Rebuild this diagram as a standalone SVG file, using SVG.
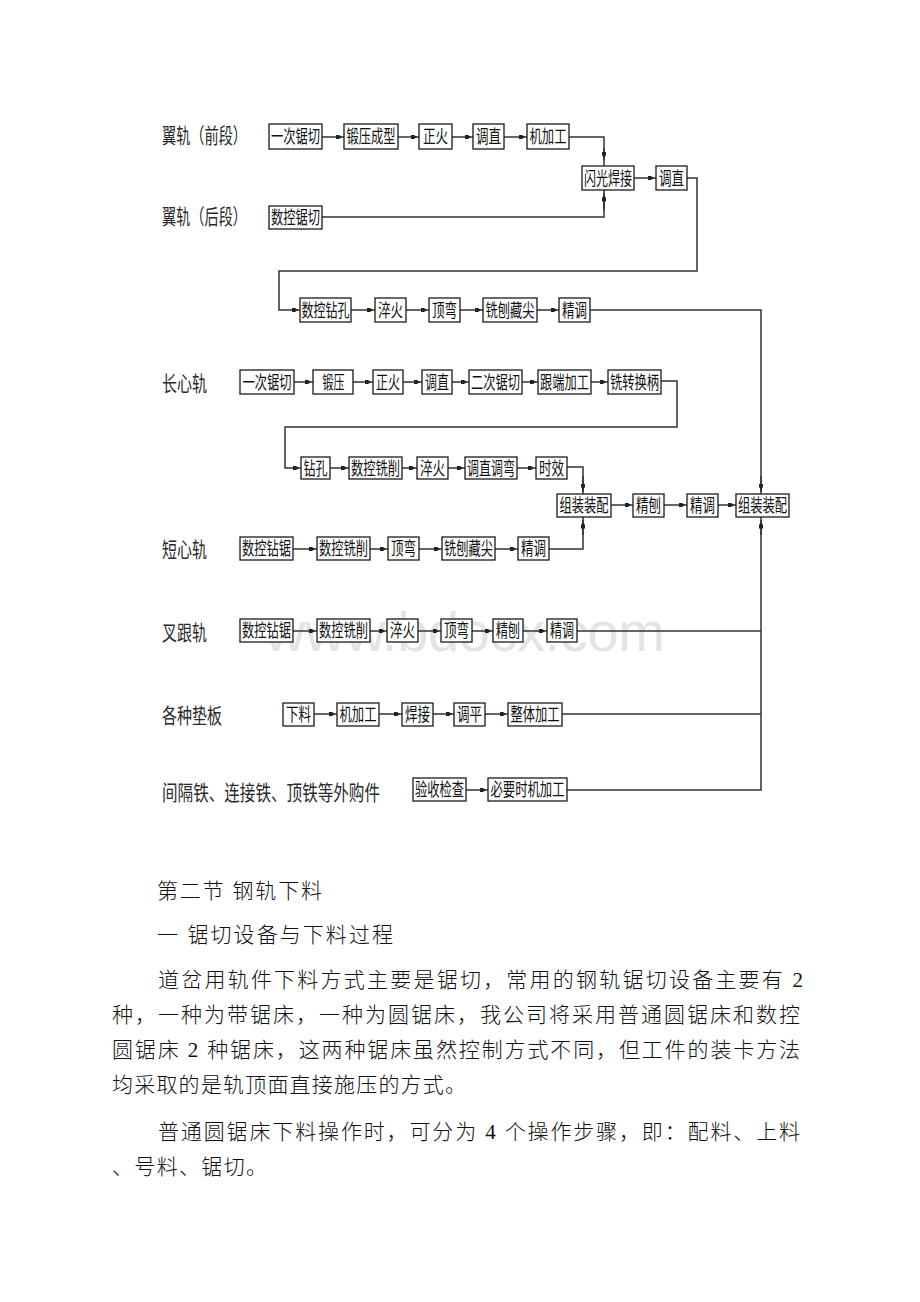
<svg xmlns="http://www.w3.org/2000/svg" width="920" height="1302" viewBox="0 0 920 1302">
<style>
.bg{fill:#ffffff}
.wm{font-family:"Liberation Sans",Arial,sans-serif;font-size:56px;fill:#e4e4e4}
.lbl{font-family:"Noto Sans CJK SC",sans-serif;font-size:21px;fill:#2a2a2a}
.node rect{fill:#ffffff;stroke:#1a1a1a;stroke-width:1.3}
.node text{font-family:"Noto Sans CJK SC",sans-serif;font-size:18px;fill:#111;text-anchor:middle}
.c{fill:none;stroke:#333;stroke-width:1.5}
.a{fill:none;stroke:#333;stroke-width:1.5;marker-end:url(#ah)}
.body{font-family:"Liberation Serif","Noto Sans CJK SC",serif;font-size:21px;fill:#111;font-weight:300}
</style>
<defs>
<marker id="ah" markerUnits="userSpaceOnUse" viewBox="0 -3 9 6" markerWidth="9" markerHeight="6" refX="8.5" refY="0" orient="auto">
<path d="M0,-2 L3.5,-2 L6.5,0 L3.5,2 L0,2 Z" fill="#222"/>
</marker>
</defs>
<rect class="bg" x="0" y="0" width="920" height="1302"/>
<text class="wm" x="265" y="651" textLength="400">www.bdocx.com</text>

<g id="labels">
<g id="lbl-yigui-front"><text class="lbl" x="162" y="143" textLength="85" lengthAdjust="spacingAndGlyphs">翼轨（前段）</text></g>
<g id="lbl-yigui-back"><text class="lbl" x="162" y="224" textLength="85" lengthAdjust="spacingAndGlyphs">翼轨（后段）</text></g>
<g id="lbl-changxin"><text class="lbl" x="162" y="391" textLength="45" lengthAdjust="spacingAndGlyphs">长心轨</text></g>
<g id="lbl-duanxin"><text class="lbl" x="162" y="557" textLength="45" lengthAdjust="spacingAndGlyphs">短心轨</text></g>
<g id="lbl-chagen"><text class="lbl" x="162" y="640" textLength="45" lengthAdjust="spacingAndGlyphs">叉跟轨</text></g>
<g id="lbl-dianban"><text class="lbl" x="162" y="723" textLength="60" lengthAdjust="spacingAndGlyphs">各种垫板</text></g>
<g id="lbl-waigou"><text class="lbl" x="162" y="800" textLength="218" lengthAdjust="spacingAndGlyphs">间隔铁、连接铁、顶铁等外购件</text></g>
</g>

<g id="connectors">
<path class="a" d="M322,137 H344"/>
<path class="a" d="M398,137 H419"/>
<path class="a" d="M452,137 H473"/>
<path class="a" d="M504,137 H527"/>
<path class="c" d="M569,137 H604 V166"/>
<path class="a" d="M604,148 V160"/>
<path class="c" d="M322,217 H604 V190"/>
<path class="a" d="M604,210 V193"/>
<path class="a" d="M634,178 H656"/>
<path class="a" d="M687,178 H697 V271 H279 V310 H300"/>
<path class="a" d="M351,310 H375"/>
<path class="a" d="M406,310 H429"/>
<path class="a" d="M460,310 H483"/>
<path class="a" d="M537,310 H559"/>
<path class="c" d="M590,310 H761 V494"/>
<path class="a" d="M761,476 V492"/>
<path class="a" d="M294,382 H313"/>
<path class="a" d="M353,382 H373"/>
<path class="a" d="M403,382 H422"/>
<path class="a" d="M452,382 H469"/>
<path class="a" d="M522,382 H538"/>
<path class="a" d="M591,382 H608"/>
<path class="a" d="M661,381 H677 V427 H285 V468 H301"/>
<path class="a" d="M330,468 H349"/>
<path class="a" d="M402,468 H417"/>
<path class="a" d="M448,468 H465"/>
<path class="a" d="M517,468 H536"/>
<path class="c" d="M567,467 H583 V494"/>
<path class="a" d="M583,476 V492"/>
<path class="a" d="M611,505 H633"/>
<path class="a" d="M664,505 H687"/>
<path class="a" d="M718,505 H736"/>
<path class="a" d="M293,549 H317"/>
<path class="a" d="M370,549 H388"/>
<path class="a" d="M419,549 H442"/>
<path class="a" d="M495,549 H518"/>
<path class="c" d="M549,549 H583 V517"/>
<path class="a" d="M583,535 V520"/>
<path class="a" d="M293,631 H317"/>
<path class="a" d="M370,631 H387"/>
<path class="a" d="M418,631 H441"/>
<path class="a" d="M472,631 H493"/>
<path class="a" d="M523,631 H547"/>
<path class="c" d="M577,631 H761"/>
<path class="a" d="M314,714 H337"/>
<path class="a" d="M379,714 H402"/>
<path class="a" d="M433,714 H454"/>
<path class="a" d="M485,714 H508"/>
<path class="c" d="M562,714 H761"/>
<path class="a" d="M466,790 H488"/>
<path class="c" d="M567,790 H761 V517"/>
<path class="a" d="M761,535 V520"/>
</g>

<g id="n1" class="node"><rect x="269" y="124" width="53" height="25"/><text x="295.5" y="143" textLength="49" lengthAdjust="spacingAndGlyphs">一次锯切</text></g>
<g id="n2" class="node"><rect x="344" y="124" width="54" height="25"/><text x="371" y="143" textLength="49" lengthAdjust="spacingAndGlyphs">锻压成型</text></g>
<g id="n3" class="node"><rect x="419" y="124" width="33" height="25"/><text x="435.5" y="143" textLength="25" lengthAdjust="spacingAndGlyphs">正火</text></g>
<g id="n4" class="node"><rect x="473" y="124" width="31" height="25"/><text x="488.5" y="143" textLength="25" lengthAdjust="spacingAndGlyphs">调直</text></g>
<g id="n5" class="node"><rect x="527" y="124" width="42" height="25"/><text x="548" y="143" textLength="37" lengthAdjust="spacingAndGlyphs">机加工</text></g>
<g id="n6" class="node"><rect x="582" y="166" width="52" height="24"/><text x="608" y="184.5" textLength="48" lengthAdjust="spacingAndGlyphs">闪光焊接</text></g>
<g id="n7" class="node"><rect x="656" y="166" width="31" height="24"/><text x="671.5" y="184.5" textLength="25" lengthAdjust="spacingAndGlyphs">调直</text></g>
<g id="n8" class="node"><rect x="269" y="206" width="53" height="23"/><text x="295.5" y="224" textLength="49" lengthAdjust="spacingAndGlyphs">数控锯切</text></g>

<g id="n9" class="node"><rect x="300" y="298" width="51" height="24"/><text x="325.5" y="316.5" textLength="48" lengthAdjust="spacingAndGlyphs">数控钻孔</text></g>
<g id="n10" class="node"><rect x="375" y="298" width="31" height="24"/><text x="390.5" y="316.5" textLength="25" lengthAdjust="spacingAndGlyphs">淬火</text></g>
<g id="n11" class="node"><rect x="429" y="298" width="31" height="24"/><text x="444.5" y="316.5" textLength="25" lengthAdjust="spacingAndGlyphs">顶弯</text></g>
<g id="n12" class="node"><rect x="483" y="298" width="54" height="24"/><text x="510" y="316.5" textLength="49" lengthAdjust="spacingAndGlyphs">铣刨藏尖</text></g>
<g id="n13" class="node"><rect x="559" y="298" width="31" height="24"/><text x="574.5" y="316.5" textLength="25" lengthAdjust="spacingAndGlyphs">精调</text></g>

<g id="n14" class="node"><rect x="240" y="370" width="54" height="24"/><text x="267" y="388.5" textLength="49" lengthAdjust="spacingAndGlyphs">一次锯切</text></g>
<g id="n15" class="node"><rect x="313" y="370" width="40" height="24"/><text x="333.5" y="388.5" textLength="22" lengthAdjust="spacingAndGlyphs">锻压</text></g>
<g id="n16" class="node"><rect x="373" y="370" width="30" height="24"/><text x="388" y="388.5" textLength="24" lengthAdjust="spacingAndGlyphs">正火</text></g>
<g id="n17" class="node"><rect x="422" y="370" width="30" height="24"/><text x="437" y="388.5" textLength="24" lengthAdjust="spacingAndGlyphs">调直</text></g>
<g id="n18" class="node"><rect x="469" y="370" width="53" height="24"/><text x="495.5" y="388.5" textLength="49" lengthAdjust="spacingAndGlyphs">二次锯切</text></g>
<g id="n19" class="node"><rect x="538" y="370" width="53" height="24"/><text x="564.5" y="388.5" textLength="49" lengthAdjust="spacingAndGlyphs">跟端加工</text></g>
<g id="n20" class="node"><rect x="608" y="370" width="53" height="24"/><text x="634.5" y="388.5" textLength="49" lengthAdjust="spacingAndGlyphs">铣转换柄</text></g>

<g id="n21" class="node"><rect x="301" y="457" width="29" height="22"/><text x="315.5" y="474.5" textLength="24" lengthAdjust="spacingAndGlyphs">钻孔</text></g>
<g id="n22" class="node"><rect x="349" y="457" width="53" height="22"/><text x="375.5" y="474.5" textLength="49" lengthAdjust="spacingAndGlyphs">数控铣削</text></g>
<g id="n23" class="node"><rect x="417" y="457" width="31" height="22"/><text x="432.5" y="474.5" textLength="25" lengthAdjust="spacingAndGlyphs">淬火</text></g>
<g id="n24" class="node"><rect x="465" y="457" width="52" height="22"/><text x="491" y="474.5" textLength="48" lengthAdjust="spacingAndGlyphs">调直调弯</text></g>
<g id="n25" class="node"><rect x="536" y="457" width="31" height="22"/><text x="551.5" y="474.5" textLength="25" lengthAdjust="spacingAndGlyphs">时效</text></g>

<g id="n26" class="node"><rect x="557" y="494" width="54" height="23"/><text x="584" y="512" textLength="49" lengthAdjust="spacingAndGlyphs">组装装配</text></g>
<g id="n27" class="node"><rect x="633" y="494" width="31" height="23"/><text x="648.5" y="512" textLength="25" lengthAdjust="spacingAndGlyphs">精刨</text></g>
<g id="n28" class="node"><rect x="687" y="494" width="31" height="23"/><text x="702.5" y="512" textLength="25" lengthAdjust="spacingAndGlyphs">精调</text></g>
<g id="n29" class="node"><rect x="736" y="494" width="53" height="23"/><text x="762.5" y="512" textLength="49" lengthAdjust="spacingAndGlyphs">组装装配</text></g>

<g id="n30" class="node"><rect x="240" y="537" width="53" height="23"/><text x="266.5" y="555" textLength="49" lengthAdjust="spacingAndGlyphs">数控钻锯</text></g>
<g id="n31" class="node"><rect x="317" y="537" width="53" height="23"/><text x="343.5" y="555" textLength="49" lengthAdjust="spacingAndGlyphs">数控铣削</text></g>
<g id="n32" class="node"><rect x="388" y="537" width="31" height="23"/><text x="403.5" y="555" textLength="25" lengthAdjust="spacingAndGlyphs">顶弯</text></g>
<g id="n33" class="node"><rect x="442" y="537" width="53" height="23"/><text x="468.5" y="555" textLength="49" lengthAdjust="spacingAndGlyphs">铣刨藏尖</text></g>
<g id="n34" class="node"><rect x="518" y="537" width="31" height="23"/><text x="533.5" y="555" textLength="25" lengthAdjust="spacingAndGlyphs">精调</text></g>

<g id="n35" class="node"><rect x="240" y="619" width="53" height="23"/><text x="266.5" y="637" textLength="49" lengthAdjust="spacingAndGlyphs">数控钻锯</text></g>
<g id="n36" class="node"><rect x="317" y="619" width="53" height="23"/><text x="343.5" y="637" textLength="49" lengthAdjust="spacingAndGlyphs">数控铣削</text></g>
<g id="n37" class="node"><rect x="387" y="619" width="31" height="23"/><text x="402.5" y="637" textLength="25" lengthAdjust="spacingAndGlyphs">淬火</text></g>
<g id="n38" class="node"><rect x="441" y="619" width="31" height="23"/><text x="456.5" y="637" textLength="25" lengthAdjust="spacingAndGlyphs">顶弯</text></g>
<g id="n39" class="node"><rect x="493" y="619" width="30" height="23"/><text x="508" y="637" textLength="24" lengthAdjust="spacingAndGlyphs">精刨</text></g>
<g id="n40" class="node"><rect x="547" y="619" width="30" height="23"/><text x="562" y="637" textLength="24" lengthAdjust="spacingAndGlyphs">精调</text></g>

<g id="n41" class="node"><rect x="283" y="703" width="31" height="23"/><text x="298.5" y="721" textLength="25" lengthAdjust="spacingAndGlyphs">下料</text></g>
<g id="n42" class="node"><rect x="337" y="703" width="42" height="23"/><text x="358" y="721" textLength="37" lengthAdjust="spacingAndGlyphs">机加工</text></g>
<g id="n43" class="node"><rect x="402" y="703" width="31" height="23"/><text x="417.5" y="721" textLength="25" lengthAdjust="spacingAndGlyphs">焊接</text></g>
<g id="n44" class="node"><rect x="454" y="703" width="31" height="23"/><text x="469.5" y="721" textLength="25" lengthAdjust="spacingAndGlyphs">调平</text></g>
<g id="n45" class="node"><rect x="508" y="703" width="54" height="23"/><text x="535" y="721" textLength="49" lengthAdjust="spacingAndGlyphs">整体加工</text></g>

<g id="n46" class="node"><rect x="413" y="778" width="53" height="23"/><text x="439.5" y="796" textLength="49" lengthAdjust="spacingAndGlyphs">验收检查</text></g>
<g id="n47" class="node"><rect x="488" y="778" width="79" height="23"/><text x="527.5" y="796" textLength="74" lengthAdjust="spacingAndGlyphs">必要时机加工</text></g>

<g id="body-text">
<text class="body" x="157" y="898" textLength="165">第二节 钢轨下料</text>
<text class="body" x="157" y="942" textLength="236">一 锯切设备与下料过程</text>
<text class="body" x="158" y="987" textLength="645">道岔用轨件下料方式主要是锯切，常用的钢轨锯切设备主要有 2</text>
<text class="body" x="112" y="1022" textLength="688">种，一种为带锯床，一种为圆锯床，我公司将采用普通圆锯床和数控</text>
<text class="body" x="112" y="1057" textLength="688">圆锯床 2 种锯床，这两种锯床虽然控制方式不同，但工件的装卡方法</text>
<text class="body" x="112" y="1092" textLength="354">均采取的是轨顶面直接施压的方式。</text>
<text class="body" x="158" y="1139" textLength="642">普通圆锯床下料操作时，可分为 4 个操作步骤，即：配料、上料</text>
<text class="body" x="112" y="1174" textLength="155">、号料、锯切。</text>
</g>
</svg>
